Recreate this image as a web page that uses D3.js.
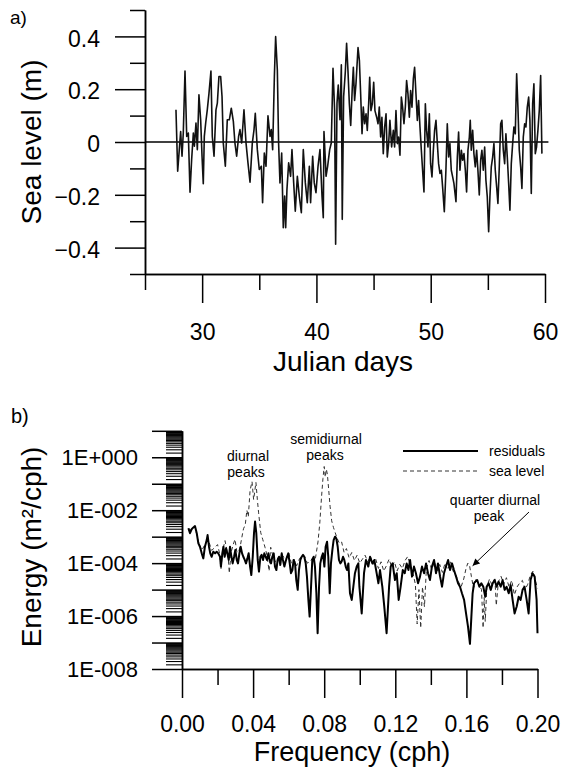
<!DOCTYPE html>
<html>
<head>
<meta charset="utf-8">
<script src="https://cdn.jsdelivr.net/npm/d3@7"></script>
<style>
  body { margin: 0; background: #fff; }
  svg { display: block; }
  text { font-family: "Liberation Sans", Arial, sans-serif; fill: #000; }
</style>
</head>
<body>
<div id="chart"></div>
<script>
// ---------- data ----------
// panel a: sea level residual [julian day, metres]
var seaSeries = [
  [27.71,0.122],[27.86,-0.111],[28.00,-0.029],[28.12,0.040],[28.24,-0.054],[28.35,0.034],[28.50,0.269],[28.65,0.021],
  [28.79,0.034],[28.94,-0.190],[29.08,-0.067],[29.23,0.034],[29.32,-0.016],[29.46,0.072],[29.58,-0.029],[29.72,0.179],
  [29.87,0.084],[29.99,-0.054],[30.10,-0.158],[30.19,0.021],[30.31,0.072],[30.45,0.122],[30.60,0.185],[30.77,0.269],
  [30.89,0.021],[31.04,-0.054],[31.21,0.122],[31.33,0.147],[31.47,0.248],[31.62,0.248],[31.74,0.172],[31.85,-0.004],
  [32.03,-0.092],[32.20,0.084],[32.38,0.084],[32.55,0.128],[32.73,0.078],[32.87,-0.004],[33.02,-0.054],[33.19,0.021],
  [33.31,0.047],[33.46,-0.004],[33.66,0.122],[33.84,-0.004],[34.01,-0.079],[34.19,-0.152],[34.39,-0.004],[34.54,0.047],
  [34.65,0.109],[34.83,-0.029],[35.00,-0.104],[35.18,-0.092],[35.29,-0.230],[35.44,-0.042],[35.59,-0.092],[35.76,0.099],
  [35.94,0.021],[36.05,0.047],[36.17,-0.029],[36.32,0.248],[36.43,0.399],[36.58,0.273],[36.69,-0.004],[36.81,-0.155],
  [36.96,-0.042],[37.10,-0.325],[37.22,-0.205],[37.31,-0.325],[37.42,-0.180],[37.57,-0.079],[37.74,-0.130],[37.86,-0.029],
  [38.01,-0.155],[38.15,-0.262],[38.33,-0.130],[38.50,-0.205],[38.68,-0.268],[38.85,-0.029],[39.03,-0.155],[39.20,-0.230],
  [39.38,-0.092],[39.49,-0.230],[39.67,-0.054],[39.81,-0.155],[39.96,-0.192],[40.14,-0.092],[40.31,-0.029],[40.49,-0.205],
  [40.60,-0.287],[40.66,0.040],[40.78,-0.067],[40.84,-0.130],[40.98,-0.092],[41.16,-0.029],[41.30,-0.004],[41.45,0.279],
  [41.59,0.122],[41.68,-0.387],[41.80,0.147],[41.91,0.216],[42.06,0.084],[42.18,0.292],[42.26,-0.293],[42.38,0.172],
  [42.53,0.267],[42.64,0.374],[42.76,0.270],[42.88,0.145],[43.00,0.063],[43.14,0.208],[43.23,0.283],[43.34,0.157],
  [43.46,0.220],[43.64,0.358],[43.76,0.308],[43.87,0.182],[43.99,0.031],[44.10,0.132],[44.22,0.069],[44.34,0.107],
  [44.45,0.044],[44.57,0.145],[44.66,0.245],[44.77,0.119],[44.89,0.145],[45.01,0.226],[45.12,0.119],[45.27,0.094],
  [45.39,0.069],[45.50,0.132],[45.62,0.019],[45.73,0.094],[45.85,-0.044],[45.97,0.057],[46.09,0.107],[46.20,-0.057],
  [46.32,-0.006],[46.43,0.082],[46.58,-0.019],[46.73,0.044],[46.84,-0.019],[46.96,0.119],[47.08,-0.006],[47.19,0.019],
  [47.31,-0.050],[47.43,0.170],[47.54,0.132],[47.66,0.069],[47.78,0.132],[47.89,0.233],[48.01,0.182],[48.13,0.094],
  [48.24,0.195],[48.36,0.132],[48.48,0.239],[48.59,0.283],[48.71,0.182],[48.83,0.082],[48.94,0.157],[49.06,0.057],
  [49.18,-0.031],[49.29,-0.107],[49.41,-0.189],[49.53,0.145],[49.64,0.044],[49.76,-0.019],[49.88,0.107],[49.99,-0.082],
  [50.11,-0.132],[50.23,-0.031],[50.34,0.044],[50.46,0.082],[50.58,-0.006],[50.69,-0.082],[50.81,-0.119],[50.93,-0.107],
  [51.04,-0.170],[51.19,-0.264],[51.33,-0.107],[51.45,0.069],[51.57,-0.057],[51.68,-0.006],[51.80,-0.107],[51.92,-0.132],
  [52.03,-0.157],[52.21,-0.226],[52.33,-0.057],[52.44,0.038],[52.56,-0.107],[52.68,-0.031],[52.79,-0.069],[52.91,-0.044],
  [53.03,-0.107],[53.14,-0.189],[53.26,-0.031],[53.38,0.019],[53.46,0.082],[53.55,-0.031],[53.67,0.044],[53.78,-0.044],
  [53.90,-0.094],[54.02,-0.031],[54.13,-0.107],[54.25,-0.201],[54.37,-0.069],[54.48,-0.031],[54.60,-0.107],[54.72,-0.019],
  [54.83,-0.145],[54.95,-0.208],[55.07,-0.340],[55.18,-0.208],[55.30,-0.094],[55.42,-0.057],[55.53,-0.006],[55.65,-0.107],
  [55.77,-0.170],[55.88,-0.233],[56.00,-0.094],[56.12,0.069],[56.23,0.082],[56.35,-0.031],[56.47,-0.082],[56.58,0.031],
  [56.70,-0.057],[56.82,-0.157],[56.93,-0.258],[57.05,-0.082],[57.17,-0.006],[57.28,0.057],[57.40,0.031],[57.52,0.258],
  [57.63,0.132],[57.75,-0.031],[57.87,-0.094],[57.98,-0.176],[58.10,0.019],[58.22,0.069],[58.33,0.057],[58.45,0.132],
  [58.57,0.170],[58.68,0.082],[58.80,-0.195],[58.92,0.145],[59.03,0.220],[59.15,-0.044],[59.26,-0.019],[59.38,0.044],
  [59.50,0.119],[59.62,0.252],[59.73,-0.044]
];

// panel b: spectra [frequency cph, log10 energy m2/cph]
var residSpec = [
  [0.0036,-2.68],[0.0045,-2.87],[0.0054,-2.72],[0.0064,-2.65],[0.0073,-2.60],[0.0083,-2.87],[0.0092,-3.25],[0.0101,-3.38],
  [0.0111,-3.63],[0.0120,-3.82],[0.0129,-3.38],[0.0139,-3.13],[0.0144,-2.94],[0.0152,-3.38],[0.0159,-3.63],[0.0167,-3.76],
  [0.0176,-3.57],[0.0186,-3.63],[0.0195,-3.57],[0.0204,-3.63],[0.0214,-3.76],[0.0219,-4.13],[0.0227,-3.63],[0.0233,-3.38],
  [0.0240,-3.76],[0.0248,-3.44],[0.0255,-3.63],[0.0263,-3.88],[0.0270,-3.38],[0.0278,-3.76],[0.0285,-4.01],[0.0293,-3.76],
  [0.0300,-3.50],[0.0308,-3.88],[0.0315,-4.01],[0.0323,-3.63],[0.0330,-3.38],[0.0338,-3.63],[0.0345,-3.76],[0.0353,-3.88],
  [0.0360,-4.01],[0.0368,-3.82],[0.0375,-3.63],[0.0383,-4.13],[0.0390,-4.45],[0.0398,-3.76],[0.0405,-2.87],[0.0411,-2.43],
  [0.0418,-2.87],[0.0426,-3.88],[0.0433,-4.32],[0.0441,-3.76],[0.0448,-3.69],[0.0456,-3.88],[0.0463,-3.63],[0.0471,-3.76],
  [0.0478,-3.88],[0.0486,-3.63],[0.0493,-3.88],[0.0501,-4.01],[0.0508,-3.76],[0.0516,-3.63],[0.0523,-4.13],[0.0531,-4.26],
  [0.0538,-3.88],[0.0546,-3.76],[0.0553,-4.07],[0.0561,-3.63],[0.0568,-3.88],[0.0576,-4.13],[0.0583,-3.94],[0.0591,-3.76],
  [0.0598,-3.63],[0.0606,-4.01],[0.0613,-4.38],[0.0621,-4.26],[0.0628,-3.88],[0.0636,-4.01],[0.0643,-4.64],[0.0651,-5.01],
  [0.0658,-4.26],[0.0666,-3.88],[0.0673,-3.76],[0.0681,-3.69],[0.0688,-3.76],[0.0696,-4.01],[0.0703,-4.51],[0.0711,-5.39],
  [0.0718,-6.02],[0.0726,-4.89],[0.0733,-3.88],[0.0741,-3.76],[0.0748,-4.13],[0.0756,-5.14],[0.0763,-6.65],[0.0771,-4.89],
  [0.0778,-4.01],[0.0786,-3.76],[0.0793,-3.63],[0.0801,-4.13],[0.0808,-3.38],[0.0816,-3.19],[0.0823,-3.76],[0.0831,-5.14],
  [0.0838,-4.01],[0.0846,-3.50],[0.0853,-3.13],[0.0861,-3.00],[0.0868,-3.06],[0.0876,-3.38],[0.0883,-3.88],[0.0891,-4.01],
  [0.0898,-3.94],[0.0906,-3.76],[0.0913,-3.88],[0.0921,-4.13],[0.0928,-4.26],[0.0936,-4.01],[0.0945,-5.14],[0.0955,-5.39],
  [0.0964,-4.89],[0.0973,-4.38],[0.0983,-4.13],[0.0992,-4.01],[0.0998,-4.89],[0.1011,-5.90],[0.1024,-4.38],[0.1035,-3.88],
  [0.1048,-4.13],[0.1058,-3.76],[0.1071,-4.01],[0.1082,-3.88],[0.1095,-4.38],[0.1105,-4.76],[0.1114,-4.26],[0.1127,-4.89],
  [0.1138,-5.64],[0.1151,-6.65],[0.1165,-4.89],[0.1174,-4.13],[0.1185,-4.01],[0.1198,-4.64],[0.1208,-4.38],[0.1219,-5.39],
  [0.1230,-4.89],[0.1242,-4.26],[0.1253,-4.38],[0.1264,-4.01],[0.1274,-4.26],[0.1283,-3.88],[0.1294,-4.51],[0.1305,-4.13],
  [0.1316,-4.38],[0.1328,-4.76],[0.1339,-4.51],[0.1350,-4.13],[0.1362,-4.38],[0.1373,-4.01],[0.1384,-4.38],[0.1395,-4.64],
  [0.1406,-4.13],[0.1418,-3.88],[0.1429,-4.38],[0.1440,-4.01],[0.1452,-4.51],[0.1463,-4.89],[0.1474,-4.38],[0.1485,-4.13],
  [0.1497,-3.88],[0.1508,-4.26],[0.1519,-4.01],[0.1530,-4.26],[0.1542,-4.51],[0.1553,-4.76],[0.1564,-4.89],[0.1575,-5.14],
  [0.1587,-5.39],[0.1598,-5.90],[0.1609,-6.40],[0.1620,-7.05],[0.1628,-6.02],[0.1635,-5.14],[0.1643,-4.76],[0.1650,-4.70],
  [0.1661,-4.64],[0.1673,-4.89],[0.1684,-4.76],[0.1695,-4.89],[0.1706,-5.27],[0.1714,-4.89],[0.1725,-4.76],[0.1737,-5.01],
  [0.1748,-4.76],[0.1759,-4.64],[0.1770,-4.89],[0.1781,-4.70],[0.1793,-4.89],[0.1804,-4.64],[0.1815,-5.01],[0.1826,-4.89],
  [0.1838,-5.14],[0.1849,-4.83],[0.1860,-5.39],[0.1871,-5.90],[0.1883,-5.64],[0.1894,-5.27],[0.1905,-5.39],[0.1916,-5.01],
  [0.1927,-4.89],[0.1939,-5.39],[0.1950,-5.90],[0.1961,-4.64],[0.1972,-4.38],[0.1984,-4.51],[0.1995,-5.39],[0.2000,-6.65]
];

var seaSpec = [
  [0.0036,-2.70],[0.0054,-2.76],[0.0073,-2.62],[0.0092,-3.18],[0.0111,-3.52],[0.0129,-3.30],[0.0148,-3.12],[0.0167,-3.52],
  [0.0186,-3.40],[0.0200,-3.30],[0.0212,-3.65],[0.0219,-4.24],[0.0228,-3.55],[0.0242,-3.15],[0.0252,-3.50],[0.0260,-3.75],
  [0.0266,-4.38],[0.0276,-3.60],[0.0288,-3.30],[0.0298,-3.10],[0.0308,-3.55],[0.0318,-3.60],[0.0328,-3.35],[0.0336,-3.05],
  [0.0346,-2.70],[0.0356,-2.55],[0.0365,-2.00],[0.0373,-2.25],[0.0383,-1.25],[0.0394,-0.92],[0.0403,-1.60],[0.0416,-0.95],
  [0.0424,-1.60],[0.0431,-2.10],[0.0443,-2.85],[0.0454,-3.10],[0.0467,-3.40],[0.0478,-3.70],[0.0490,-4.30],[0.0499,-3.40],
  [0.0510,-3.70],[0.0525,-3.95],[0.0540,-3.80],[0.0555,-3.90],[0.0570,-3.75],[0.0585,-3.85],[0.0600,-3.60],[0.0615,-4.00],
  [0.0630,-3.85],[0.0645,-4.10],[0.0660,-3.85],[0.0675,-3.70],[0.0690,-3.75],[0.0705,-4.00],[0.0720,-3.95],[0.0735,-3.80],
  [0.0750,-3.85],[0.0765,-3.20],[0.0775,-2.50],[0.0785,-1.50],[0.0793,-0.80],[0.0800,-0.35],[0.0806,-0.75],[0.0812,-0.45],
  [0.0818,-0.65],[0.0825,-1.20],[0.0833,-1.85],[0.0842,-2.40],[0.0852,-2.65],[0.0862,-2.85],[0.0872,-3.05],[0.0885,-3.25],
  [0.0898,-3.20],[0.0912,-3.60],[0.0925,-3.45],[0.0940,-3.80],[0.0955,-3.60],[0.0970,-3.90],[0.0985,-3.70],[0.1000,-4.00],
  [0.1015,-3.85],[0.1030,-3.70],[0.1045,-3.95],[0.1060,-3.75],[0.1075,-4.05],[0.1090,-3.85],[0.1105,-4.20],[0.1120,-3.95],
  [0.1135,-4.30],[0.1150,-4.10],[0.1165,-3.85],[0.1180,-4.15],[0.1195,-3.95],[0.1210,-4.30],[0.1225,-4.05],[0.1240,-4.20],
  [0.1255,-3.90],[0.1270,-3.75],[0.1285,-4.10],[0.1300,-4.40],[0.1313,-4.80],[0.1323,-6.30],[0.1333,-5.00],[0.1343,-6.45],
  [0.1353,-4.90],[0.1364,-5.65],[0.1375,-4.20],[0.1390,-3.90],[0.1405,-4.25],[0.1420,-3.95],[0.1435,-4.30],[0.1450,-4.05],
  [0.1465,-4.35],[0.1480,-4.00],[0.1495,-4.25],[0.1510,-3.95],[0.1525,-4.30],[0.1540,-4.45],[0.1555,-4.70],[0.1570,-4.90],
  [0.1585,-4.60],[0.1598,-4.20],[0.1608,-4.00],[0.1618,-4.10],[0.1628,-4.50],[0.1640,-4.95],[0.1655,-4.60],[0.1670,-4.80],
  [0.1685,-5.00],[0.1694,-6.45],[0.1700,-5.30],[0.1706,-6.20],[0.1715,-4.90],[0.1730,-4.60],[0.1745,-4.85],[0.1760,-4.55],
  [0.1768,-5.60],[0.1780,-4.70],[0.1795,-4.50],[0.1810,-4.80],[0.1825,-4.55],[0.1840,-4.90],[0.1855,-4.65],[0.1870,-5.20],
  [0.1885,-4.90],[0.1900,-4.75],[0.1915,-4.65],[0.1930,-5.00],[0.1945,-4.80],[0.1960,-4.45],[0.1975,-4.30],[0.1990,-4.70],
  [0.2000,-4.95]
];

// ticks
var seaMajor = [-0.4, -0.2, 0, 0.2, 0.4];
var seaMinor = [-0.5, -0.3, -0.1, 0.1, 0.3, 0.5];
var dayMajor = [30, 40, 50, 60];
var dayMinor = [25, 35, 45, 55];
var energyMajor = [1e-8, 1e-6, 1e-4, 1e-2, 1e0];
var energyDecades = [1e-8, 1e-7, 1e-6, 1e-5, 1e-4, 1e-3, 1e-2, 1e-1, 1e0, 1e1];
var logMinorSteps = [1.5, 2, 2.5, 3, 3.5, 4, 4.5, 5, 5.5, 6, 6.5, 7, 7.5, 8, 8.5, 9, 9.5];
var freqMajor = [0, 0.04, 0.08, 0.12, 0.16, 0.2];
var freqMinor = [0.02, 0.06, 0.10, 0.14, 0.18];

var width = 562, height = 769;
var svg = d3.select('#chart').append('svg')
  .attr('width', width).attr('height', height);
svg.append('rect').attr('width', width).attr('height', height).attr('fill', '#fff');

// 样式帮助
function styleAxis(g, size) {
  g.attr('font-family', '"Liberation Sans", Arial, sans-serif').attr('font-size', size);
  g.selectAll('path.domain').attr('stroke', '#000').attr('stroke-width', 1.5);
  g.selectAll('.tick line').attr('stroke', '#000').attr('stroke-width', 1.5);
  g.selectAll('.tick text').attr('fill', '#000');
}

/****************************** panel a ******************************/
var xDay = d3.scaleLinear().domain([25, 60]).range([145, 545]);
var ySea = d3.scaleLinear().domain([-0.5, 0.5]).range([274, 10]);

var ga = svg.append('g');

// minor ticks first
ga.append('g').attr('transform', 'translate(145,0)')
  .call(d3.axisLeft(ySea).tickValues(seaMinor).tickSize(15).tickSizeOuter(0).tickFormat(''))
  .call(styleAxis, 23);
ga.append('g').attr('transform', 'translate(145,0)')
  .call(d3.axisLeft(ySea).tickValues(seaMajor).tickSize(30).tickSizeOuter(0).tickPadding(15)
    .tickFormat(function (d) { return d === 0 ? '0' : d3.format('.1f')(d); }))
  .call(styleAxis, 23)
  .selectAll('.tick text').attr('dy', '0.42em');

ga.append('g').attr('transform', 'translate(0,274)')
  .call(d3.axisBottom(xDay).tickValues(dayMinor).tickSize(16).tickSizeOuter(0).tickFormat(''))
  .call(styleAxis, 23);
ga.append('g').attr('transform', 'translate(0,274)')
  .call(d3.axisBottom(xDay).tickValues(dayMajor).tickSize(29).tickSizeOuter(0).tickPadding(21))
  .call(styleAxis, 23);

// zero line
ga.append('line')
  .attr('x1', xDay(25)).attr('x2', xDay(60.3))
  .attr('y1', ySea(0)).attr('y2', ySea(0))
  .attr('stroke', '#000').attr('stroke-width', 1.5);

var seaLine = d3.line()
  .x(function (d) { return xDay(d[0]); })
  .y(function (d) { return ySea(d[1]); });

ga.append('path')
  .datum(seaSeries)
  .attr('d', seaLine)
  .attr('fill', 'none')
  .attr('stroke', '#111')
  .attr('stroke-width', 1.6)
  .attr('stroke-linejoin', 'round');

ga.append('text').attr('transform', 'translate(41,142) rotate(-90)')
  .attr('text-anchor', 'middle').attr('font-size', 28).text('Sea level (m)');
ga.append('text').attr('x', 343).attr('y', 371)
  .attr('text-anchor', 'middle').attr('font-size', 28).text('Julian days');
ga.append('text').attr('x', 10).attr('y', 24)
  .attr('font-family', '"Liberation Serif", "Times New Roman", serif')
  .attr('font-size', 19).text('a)');

/****************************** panel b ******************************/
var xF = d3.scaleLinear().domain([0, 0.2]).range([182, 537.5]);
var yE = d3.scaleLog().domain([1e-8, 10]).range([669, 430.8]);

var gb = svg.append('g');

var minorE = [];
energyDecades.slice(0, -1).forEach(function (dec) {
  logMinorSteps.forEach(function (k) { minorE.push(dec * k); });
});

gb.append('g').attr('transform', 'translate(182,0)')
  .call(d3.axisLeft(yE).tickValues(minorE).tickSize(16).tickSizeOuter(0).tickFormat(''))
  .call(styleAxis, 22)
  .selectAll('.tick line').attr('stroke-width', 1.1);
gb.append('g').attr('transform', 'translate(182,0)')
  .call(d3.axisLeft(yE).tickValues(energyDecades).tickSize(30).tickSizeOuter(0).tickPadding(14)
    .tickFormat(function (d) {
      if (energyMajor.indexOf(d) < 0) return '';
      var e = Math.round(Math.log10(d));
      return '1E' + (e >= 0 ? '+' : '-') + String(Math.abs(e)).padStart(3, '0');
    }))
  .call(styleAxis, 22);

gb.append('g').attr('transform', 'translate(0,669)')
  .call(d3.axisBottom(xF).tickValues(freqMinor).tickSize(16).tickSizeOuter(0).tickFormat(''))
  .call(styleAxis, 23);
gb.append('g').attr('transform', 'translate(0,669)')
  .call(d3.axisBottom(xF).tickValues(freqMajor).tickSize(29).tickSizeOuter(0).tickPadding(18)
    .tickFormat(d3.format('.2f')))
  .call(styleAxis, 23);

var specLine = d3.line()
  .x(function (d) { return xF(d[0]); })
  .y(function (d) { return yE(Math.pow(10, d[1])); });

gb.append('path')
  .datum(seaSpec)
  .attr('d', specLine)
  .attr('fill', 'none')
  .attr('stroke', '#333')
  .attr('stroke-width', 1)
  .attr('stroke-dasharray', '4,3');

gb.append('path')
  .datum(residSpec)
  .attr('d', specLine)
  .attr('fill', 'none')
  .attr('stroke', '#000')
  .attr('stroke-width', 2)
  .attr('stroke-linejoin', 'round');

// legend
gb.append('line').attr('x1', 403).attr('x2', 478).attr('y1', 451).attr('y2', 451)
  .attr('stroke', '#000').attr('stroke-width', 2);
gb.append('line').attr('x1', 403).attr('x2', 478).attr('y1', 471).attr('y2', 471)
  .attr('stroke', '#333').attr('stroke-width', 1).attr('stroke-dasharray', '4,3');
gb.append('text').attr('x', 489).attr('y', 456).attr('font-size', 14).text('residuals');
gb.append('text').attr('x', 489).attr('y', 476).attr('font-size', 14).text('sea level');

// annotations
var notes = [
  { t: 'diurnal', x: 248, y: 461 },
  { t: 'peaks', x: 246, y: 477 },
  { t: 'semidiurnal', x: 326, y: 444 },
  { t: 'peaks', x: 325, y: 460 },
  { t: 'quarter diurnal', x: 495, y: 505 },
  { t: 'peak', x: 489, y: 521 }
];
gb.selectAll('.note').data(notes).enter().append('text')
  .attr('class', 'note')
  .attr('x', function (d) { return d.x; })
  .attr('y', function (d) { return d.y; })
  .attr('text-anchor', 'middle')
  .attr('font-size', 14)
  .text(function (d) { return d.t; });

svg.append('defs').append('marker')
  .attr('id', 'arrow').attr('viewBox', '0 0 10 10')
  .attr('refX', 10).attr('refY', 5)
  .attr('markerWidth', 9).attr('markerHeight', 7)
  .attr('markerUnits', 'userSpaceOnUse')
  .attr('orient', 'auto')
  .append('path').attr('d', 'M0,0 L10,5 L0,10 z').attr('fill', '#000');

gb.append('line')
  .attr('x1', xF(0.1952)).attr('y1', yE(Math.pow(10, -2.07)))
  .attr('x2', xF(0.1635)).attr('y2', yE(Math.pow(10, -4.1)))
  .attr('stroke', '#000').attr('stroke-width', 1)
  .attr('marker-end', 'url(#arrow)');

gb.append('text').attr('transform', 'translate(41,547) rotate(-90)')
  .attr('text-anchor', 'middle').attr('font-size', 28).text('Energy (m²/cph)');
gb.append('text').attr('x', 352).attr('y', 761)
  .attr('text-anchor', 'middle').attr('font-size', 27).text('Frequency (cph)');
gb.append('text').attr('x', 11).attr('y', 423)
  .attr('font-family', '"Liberation Serif", "Times New Roman", serif')
  .attr('font-size', 20).text('b)');
</script>
</body>
</html>
